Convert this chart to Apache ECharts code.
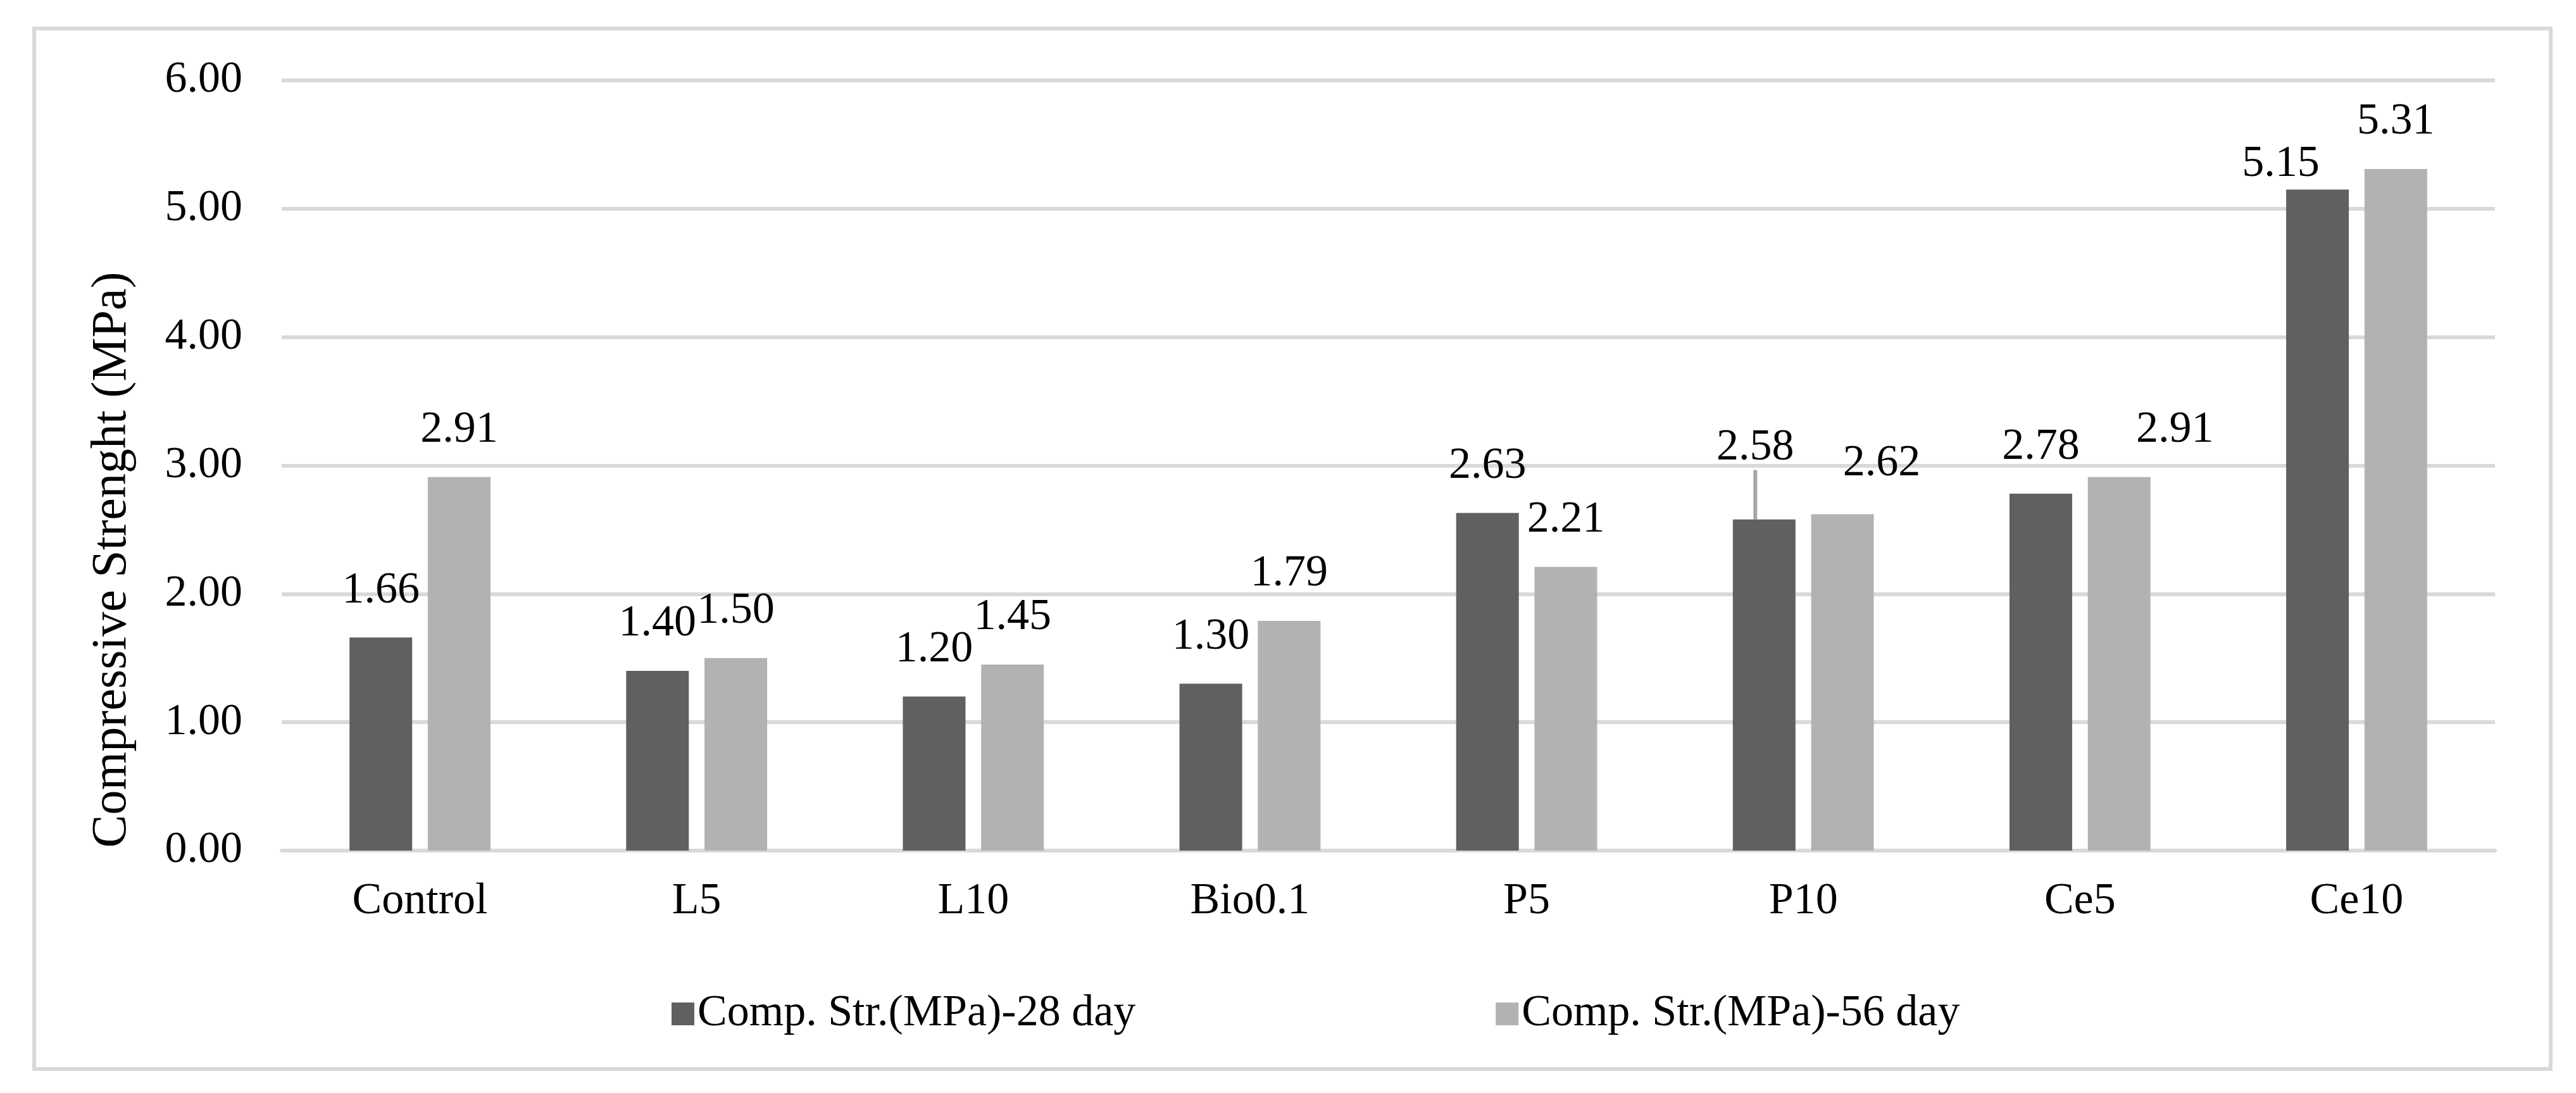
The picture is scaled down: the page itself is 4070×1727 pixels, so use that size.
<!DOCTYPE html>
<html>
<head>
<meta charset="utf-8">
<script src="https://cdn.jsdelivr.net/npm/echarts@6/dist/echarts.min.js"></script>
<style>
html,body{margin:0;padding:0;background:#fff;}
#chart{width:4070px;height:1727px;}
</style>
</head>
<body>
<div id="chart"></div>
<script>
const categories = ['Control','L5','L10','Bio0.1','P5','P10','Ce5','Ce10'];
const seriesNames = ['Comp. Str.(MPa)-28 day','Comp. Str.(MPa)-56 day'];
const day28 = [1.66, 1.40, 1.20, 1.30, 2.63, 2.58, 2.78, 5.15];
const day56 = [2.91, 1.50, 1.45, 1.79, 2.21, 2.62, 2.91, 5.31];
const yTicks = [0, 1, 2, 3, 4, 5, 6];
const yTitle = 'Compressive Strenght (MPa)';

// manual label nudges (as in the original figure) : [seriesIndex, dataIndex, dx, dy]
const labelNudges = [
  [0, 5, -14, -39],
  [1, 5, 62, -6],
  [1, 6, 88, 0],
  [0, 7, -58, 34]
];

const FONT = '"Liberation Serif", "Times New Roman", serif';
const chart = echarts.init(document.getElementById('chart'));

function nudge(s, i) {
  for (const n of labelNudges) if (n[0] === s && n[1] === i) return {dx: n[2], dy: n[3]};
  return null;
}

const guideStyle = {color: '#a6a6a6', width: 6};

function makeData(vals, s) {
  return vals.map((v, i) => {
    const item = {value: v};
    if (s === 0 && i === 5) {
      item.labelLine = {show: true, lineStyle: guideStyle};
    }
    return item;
  });
}

const labelStyle = {
  show: true, position: 'top', distance: 39,
  fontFamily: FONT, fontSize: 70, color: '#000',
  formatter: p => p.value.toFixed(2)
};

chart.setOption({
  animation: false,
  backgroundColor: '#fff',
  textStyle: {fontFamily: FONT},
  graphic: [{
    type: 'rect', left: 51, top: 42,
    shape: {width: 3976, height: 1644},
    style: {fill: 'none', stroke: '#d9d9d9', lineWidth: 6},
    z: -1
  }],
  grid: {left: 445, right: 128, top: 127, bottom: 383, containLabel: false},
  legend: {
    data: seriesNames,
    left: 1056, top: 1562,
    icon: 'rect', itemWidth: 36, itemHeight: 36, itemGap: 569,
    textStyle: {fontFamily: FONT, fontSize: 70, color: '#000'}
  },
  xAxis: {
    type: 'category', data: categories,
    axisLine: {show: true, lineStyle: {color: '#d9d9d9', width: 6}},
    axisTick: {show: false},
    axisLabel: {fontFamily: FONT, fontSize: 70, color: '#000', margin: 46}
  },
  yAxis: {
    type: 'value', min: yTicks[0], max: yTicks[yTicks.length - 1], interval: 1,
    name: yTitle, nameLocation: 'middle', nameGap: 228, nameRotate: 90,
    nameTextStyle: {fontFamily: FONT, fontSize: 78, color: '#000', padding: [0, 298, 0, 0]},
    axisLine: {show: false}, axisTick: {show: false},
    splitLine: {lineStyle: {color: '#d9d9d9', width: 6}},
    axisLabel: {fontFamily: FONT, fontSize: 70, color: '#000', margin: 62,
      formatter: v => v.toFixed(2)}
  },
  series: [
    {
      name: seriesNames[0], type: 'bar', data: makeData(day28, 0),
      barWidth: 99, barGap: '25%',
      itemStyle: {color: '#606060'},
      label: labelStyle,
      labelLine: {show: false, lineStyle: guideStyle},
      labelLayout: p => nudge(0, p.dataIndex) || {}
    },
    {
      name: seriesNames[1], type: 'bar', data: makeData(day56, 1),
      barWidth: 99, barGap: '25%',
      itemStyle: {color: '#b2b2b2'},
      label: labelStyle,
      labelLayout: p => nudge(1, p.dataIndex) || {}
    }
  ]
});
</script>
</body>
</html>
